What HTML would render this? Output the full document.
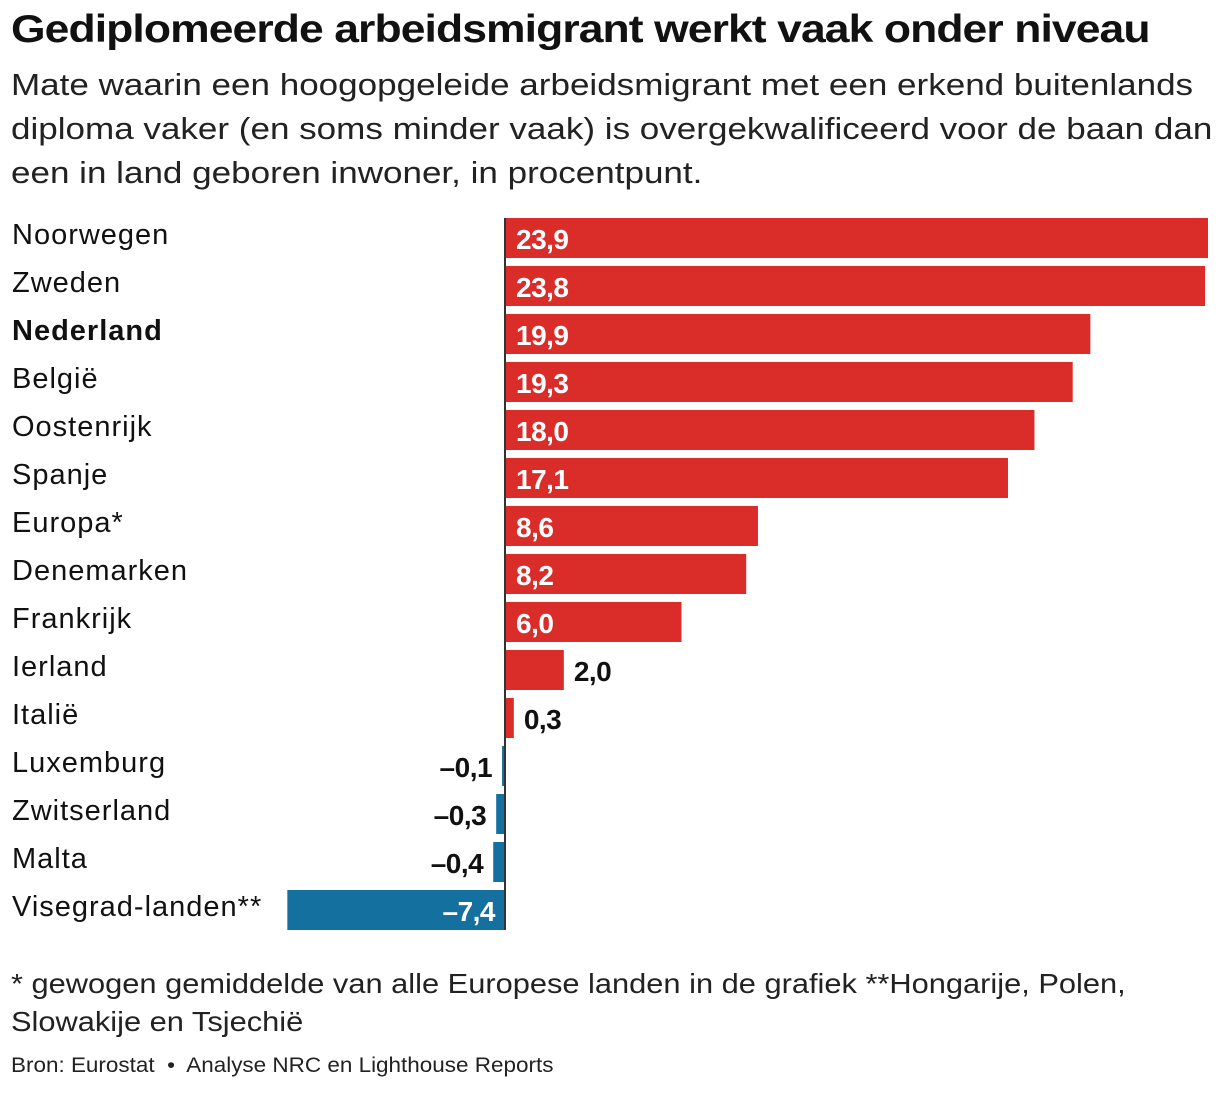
<!DOCTYPE html>
<html><head><meta charset="utf-8"><style>
body{margin:0;background:#fff;width:1220px;height:1094px;overflow:hidden;font-family:"Liberation Sans",sans-serif;color:#111}
.t{position:absolute;left:11px;white-space:nowrap;transform-origin:0 0}
</style></head><body>
<div class="t" style="top:8px;font-size:39px;font-weight:bold;letter-spacing:-0.8px;transform:scaleX(1.14)">Gediplomeerde arbeidsmigrant werkt vaak onder niveau</div>
<div class="t" style="top:63px;font-size:31px;line-height:44px;color:#222;transform:scaleX(1.13)">Mate waarin een hoogopgeleide arbeidsmigrant met een erkend buitenlands<br>diploma vaker (en soms minder vaak) is overgekwalificeerd voor de baan dan<br>een in land geboren inwoner, in procentpunt.</div>
<svg id="chart" width="1220" height="950" style="position:absolute;left:0;top:0"></svg>
<div class="t" style="top:965px;font-size:28px;line-height:38px;color:#222;transform:scaleX(1.1)">* gewogen gemiddelde van alle Europese landen in de grafiek **Hongarije, Polen,<br>Slowakije en Tsjechië</div>
<div class="t" style="top:1054px;font-size:21px;color:#222;transform:scaleX(1.07)">Bron: Eurostat &nbsp;•&nbsp; Analyse NRC en Lighthouse Reports</div>
<script>
const categories=["Noorwegen","Zweden","Nederland","België","Oostenrijk","Spanje","Europa*","Denemarken","Frankrijk","Ierland","Italië","Luxemburg","Zwitserland","Malta","Visegrad-landen**"];
const values=[23.9,23.8,19.9,19.3,18.0,17.1,8.6,8.2,6.0,2.0,0.3,-0.1,-0.3,-0.4,-7.4];
const labels=["23,9","23,8","19,9","19,3","18,0","17,1","8,6","8,2","6,0","2,0","0,3","–0,1","–0,3","–0,4","–7,4"];
const NS="http://www.w3.org/2000/svg";
const svg=document.getElementById('chart');
const x0=505,scale=703/23.9;
const x=v=>x0+v*scale;
const y=i=>218+i*48;
function mk(t,a){const e=document.createElementNS(NS,t);for(const k in a)e.setAttribute(k,a[k]);svg.appendChild(e);return e;}
categories.forEach((c,i)=>{
  const v=values[i];
  const lab=mk('text',{x:12,y:y(i)+26,'font-size':29,fill:'#111','letter-spacing':'1','font-weight':c==='Nederland'?'bold':'normal'});
  lab.textContent=c;
  
  
  let x1=Math.min(x(v),x0),w=Math.max(Math.abs(x(v)-x0),2);
  if(v<0)x1=x0-w;
  const r=mk('rect',{x:x1,y:y(i),width:w,height:40,fill:v>=0?'#da2c29':'#14719f'});
  
  
  const inside=Math.abs(v)>5;
  let tx,anchor,col;
  if(v>=0){tx=inside?x0+11:x(v)+10;anchor='start';col=inside?'#fff':'#111';}
  else{tx=inside?x0-10:x1-10;anchor='end';col=inside?'#fff':'#111';}
  const t=mk('text',{x:tx,y:y(i)+31,'font-size':28,'font-weight':'bold',fill:col,'text-anchor':anchor,'letter-spacing':'-0.5'});
  t.textContent=labels[i];
  
  
});
const ax=mk('line',{x1:x0,x2:x0,y1:218,y2:930,stroke:'#333','stroke-width':2});


</script>
</body></html>
